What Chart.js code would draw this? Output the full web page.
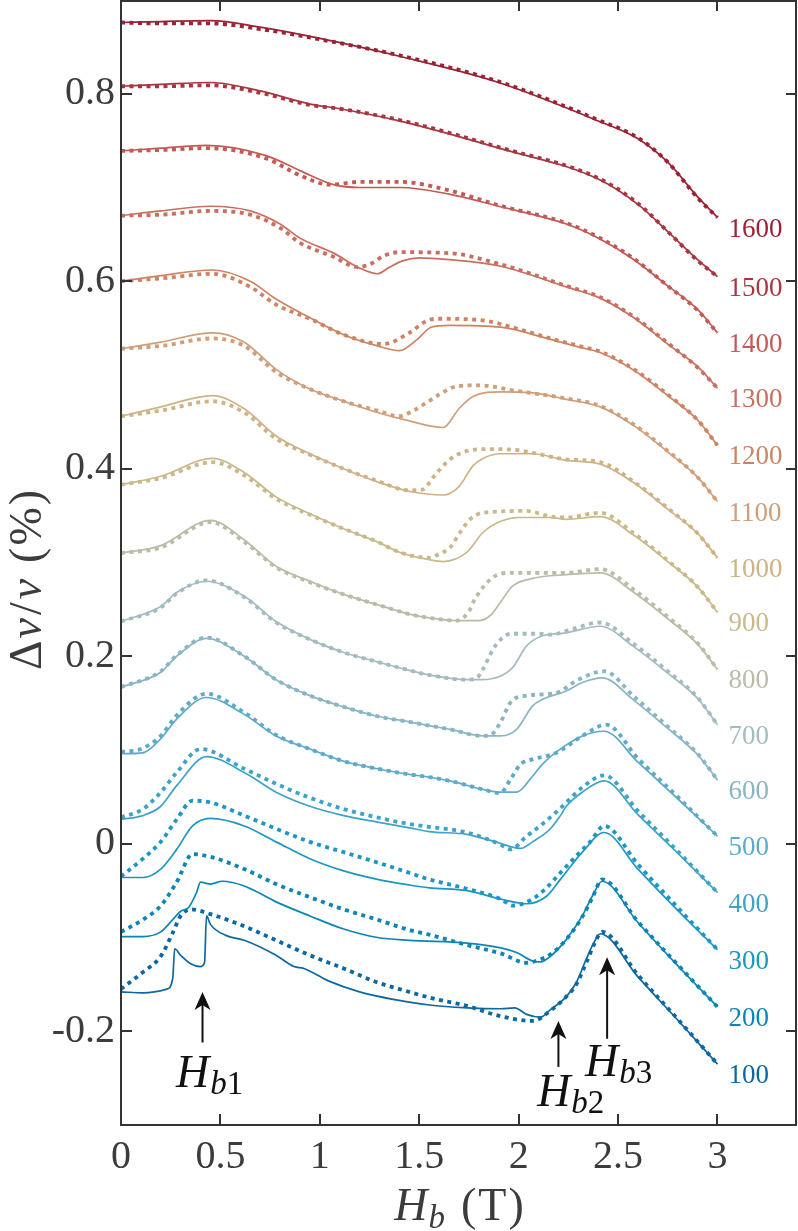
<!DOCTYPE html>
<html>
<head>
<meta charset="utf-8">
<script src="https://cdn.jsdelivr.net/npm/chart.js@4.4.1/dist/chart.umd.min.js"></script>
<style>
  html, body { margin: 0; padding: 0; background: #fff; }
  #wrap { width: 798px; height: 1231px; }
</style>
</head>
<body>
<div id="wrap"><canvas id="chart" width="798" height="1231"></canvas></div>
<script>
// ── Data ───────────────────────────────────────────
const temps = [100, 200, 300, 400, 500, 600, 700, 800, 900, 1000, 1100, 1200, 1300, 1400, 1500, 1600];

const xTicks = [0, 0.5, 1, 1.5, 2, 2.5, 3];
const xTickLabels = ['0', '0.5', '1', '1.5', '2', '2.5', '3'];
const yTicks = [-0.2, 0, 0.2, 0.4, 0.6, 0.8];
const yTickLabels = ['-0.2', '0', '0.2', '0.4', '0.6', '0.8'];

// solid (s) and dotted (d) traces, [H_b, dv/v]
const s1600 = [[0,0.876],[0.2,0.877],[0.45,0.878],[0.7,0.871],[1.0,0.859],[1.4,0.840],[1.9,0.812],[2.4,0.771],[2.6,0.752],[2.75,0.727],[2.9,0.690],[3.0,0.668]];
const d1600 = [[0,0.876],[0.2,0.875],[0.45,0.875],[0.7,0.869],[1.0,0.858],[1.4,0.841],[1.9,0.813],[2.4,0.772],[2.6,0.753],[2.75,0.727],[2.9,0.689],[3.0,0.668]];
const s1500 = [[0,0.808],[0.2,0.810],[0.45,0.812],[0.7,0.803],[0.95,0.789],[1.1,0.784],[1.4,0.771],[1.9,0.742],[2.4,0.709],[2.6,0.682],[2.75,0.653],[2.9,0.623],[3.0,0.605]];
const d1500 = [[0,0.808],[0.2,0.808],[0.45,0.809],[0.7,0.801],[0.95,0.788],[1.1,0.784],[1.4,0.772],[1.9,0.743],[2.4,0.710],[2.6,0.683],[2.75,0.653],[2.9,0.622],[3.0,0.605]];
const s1400 = [[0,0.739],[0.2,0.742],[0.43,0.745],[0.73,0.734],[0.9,0.718],[1.07,0.703],[1.2,0.700],[1.4,0.700],[1.65,0.693],[1.9,0.680],[2.24,0.661],[2.41,0.645],[2.58,0.623],[2.75,0.595],[2.9,0.570],[3.0,0.545]];
const d1400 = [[0,0.739],[0.2,0.740],[0.43,0.742],[0.73,0.731],[0.9,0.713],[1.05,0.703],[1.2,0.706],[1.4,0.706],[1.65,0.697],[1.9,0.681],[2.24,0.662],[2.41,0.646],[2.58,0.624],[2.75,0.595],[2.9,0.569],[3.0,0.545]];
const s1300 = [[0,0.670],[0.2,0.675],[0.45,0.680],[0.65,0.675],[0.8,0.661],[0.9,0.646],[1.07,0.630],[1.2,0.614],[1.29,0.608],[1.35,0.615],[1.42,0.622],[1.5,0.625],[1.65,0.623],[1.91,0.616],[2.24,0.594],[2.41,0.582],[2.58,0.561],[2.75,0.533],[2.9,0.509],[3.0,0.486]];
const d1300 = [[0,0.670],[0.2,0.671],[0.45,0.675],[0.65,0.671],[0.8,0.657],[0.9,0.641],[1.07,0.626],[1.19,0.615],[1.26,0.619],[1.32,0.627],[1.4,0.631],[1.65,0.630],[1.91,0.618],[2.24,0.595],[2.41,0.583],[2.58,0.562],[2.75,0.534],[2.9,0.508],[3.0,0.486]];
const s1200 = [[0,0.600],[0.2,0.606],[0.46,0.612],[0.65,0.600],[0.78,0.581],[0.95,0.561],[1.12,0.543],[1.29,0.531],[1.4,0.526],[1.49,0.538],[1.56,0.551],[1.65,0.553],[1.91,0.551],[2.16,0.538],[2.32,0.529],[2.41,0.524],[2.58,0.505],[2.75,0.478],[2.9,0.452],[3.0,0.425]];
const d1200 = [[0,0.600],[0.2,0.603],[0.46,0.608],[0.65,0.594],[0.78,0.575],[0.95,0.560],[1.12,0.543],[1.32,0.533],[1.45,0.545],[1.54,0.558],[1.6,0.560],[1.83,0.558],[1.95,0.552],[2.16,0.539],[2.32,0.530],[2.41,0.525],[2.58,0.506],[2.75,0.479],[2.9,0.452],[3.0,0.425]];
const s1100 = [[0,0.528],[0.2,0.535],[0.46,0.545],[0.62,0.535],[0.78,0.506],[0.95,0.485],[1.12,0.472],[1.29,0.460],[1.45,0.451],[1.62,0.444],[1.7,0.464],[1.77,0.477],[1.91,0.482],[2.07,0.481],[2.24,0.474],[2.41,0.466],[2.58,0.446],[2.75,0.418],[2.9,0.391],[3.0,0.365]];
const d1100 = [[0,0.528],[0.2,0.531],[0.46,0.539],[0.62,0.531],[0.78,0.503],[0.95,0.485],[1.12,0.472],[1.29,0.462],[1.4,0.456],[1.47,0.462],[1.54,0.471],[1.6,0.479],[1.69,0.488],[1.8,0.489],[1.99,0.483],[2.24,0.475],[2.41,0.467],[2.58,0.447],[2.75,0.419],[2.9,0.391],[3.0,0.365]];
const s1000 = [[0,0.456],[0.2,0.466],[0.46,0.478],[0.62,0.464],[0.78,0.435],[0.95,0.416],[1.12,0.400],[1.29,0.386],[1.45,0.376],[1.62,0.372],[1.7,0.381],[1.77,0.403],[1.82,0.411],[1.91,0.416],[2.07,0.416],[2.24,0.409],[2.41,0.405],[2.58,0.385],[2.75,0.357],[2.9,0.331],[3.0,0.305]];
const d1000 = [[0,0.456],[0.2,0.462],[0.46,0.472],[0.62,0.460],[0.78,0.432],[0.95,0.415],[1.12,0.400],[1.29,0.387],[1.45,0.377],[1.52,0.378],[1.57,0.391],[1.655,0.410],[1.74,0.419],[1.85,0.421],[1.99,0.420],[2.07,0.417],[2.24,0.410],[2.41,0.407],[2.58,0.386],[2.75,0.358],[2.9,0.331],[3.0,0.305]];
const s900 = [[0,0.383],[0.2,0.392],[0.46,0.411],[0.62,0.396],[0.78,0.370],[0.95,0.352],[1.12,0.336],[1.29,0.322],[1.4,0.311],[1.55,0.303],[1.62,0.301],[1.74,0.311],[1.82,0.332],[1.91,0.344],[2.0,0.348],[2.16,0.348],[2.24,0.346],[2.41,0.349],[2.58,0.329],[2.75,0.301],[2.9,0.274],[3.0,0.247]];
const d900 = [[0,0.383],[0.2,0.390],[0.46,0.407],[0.62,0.393],[0.78,0.368],[0.95,0.351],[1.12,0.336],[1.29,0.322],[1.4,0.311],[1.55,0.305],[1.6,0.309],[1.655,0.316],[1.705,0.332],[1.755,0.346],[1.82,0.353],[2.04,0.355],[2.16,0.349],[2.24,0.348],[2.41,0.353],[2.58,0.331],[2.75,0.302],[2.9,0.274],[3.0,0.247]];
const s800 = [[0,0.310],[0.2,0.318],[0.45,0.345],[0.62,0.324],[0.78,0.296],[0.95,0.280],[1.12,0.266],[1.29,0.255],[1.45,0.245],[1.55,0.241],[1.69,0.238],[1.8,0.238],[1.86,0.244],[1.91,0.258],[1.97,0.275],[2.07,0.283],[2.24,0.287],[2.41,0.289],[2.58,0.268],[2.75,0.240],[2.9,0.213],[3.0,0.186]];
const d800 = [[0,0.310],[0.2,0.316],[0.45,0.343],[0.62,0.322],[0.78,0.295],[0.95,0.279],[1.12,0.266],[1.29,0.255],[1.45,0.245],[1.55,0.241],[1.69,0.238],[1.75,0.248],[1.78,0.261],[1.87,0.284],[1.96,0.289],[2.16,0.289],[2.24,0.289],[2.41,0.293],[2.58,0.271],[2.75,0.242],[2.9,0.214],[3.0,0.186]];
const s700 = [[0,0.237],[0.2,0.253],[0.28,0.268],[0.43,0.280],[0.62,0.264],[0.78,0.237],[0.95,0.218],[1.12,0.204],[1.29,0.194],[1.45,0.185],[1.55,0.180],[1.74,0.175],[1.81,0.175],[1.91,0.179],[1.97,0.188],[2.04,0.211],[2.11,0.221],[2.24,0.225],[2.41,0.232],[2.58,0.210],[2.75,0.182],[2.9,0.155],[3.0,0.127]];
const d700 = [[0,0.237],[0.2,0.252],[0.28,0.267],[0.43,0.281],[0.62,0.263],[0.78,0.236],[0.95,0.218],[1.12,0.204],[1.29,0.194],[1.45,0.185],[1.55,0.180],[1.74,0.175],[1.79,0.177],[1.82,0.186],[1.87,0.207],[1.91,0.218],[1.96,0.224],[2.1,0.224],[2.16,0.223],[2.24,0.227],[2.41,0.236],[2.58,0.213],[2.75,0.184],[2.9,0.156],[3.0,0.127]];
const s600 = [[0,0.167],[0.2,0.183],[0.28,0.200],[0.43,0.219],[0.62,0.200],[0.78,0.175],[0.95,0.158],[1.12,0.146],[1.29,0.136],[1.45,0.130],[1.55,0.126],[1.655,0.122],[1.82,0.115],[1.91,0.115],[1.99,0.122],[2.07,0.147],[2.12,0.154],[2.24,0.163],[2.32,0.172],[2.42,0.177],[2.58,0.153],[2.75,0.123],[2.9,0.095],[3.0,0.068]];
const d600 = [[0,0.167],[0.2,0.184],[0.28,0.201],[0.43,0.220],[0.62,0.200],[0.78,0.175],[0.95,0.158],[1.12,0.146],[1.29,0.136],[1.45,0.130],[1.55,0.126],[1.655,0.122],[1.82,0.115],[1.86,0.116],[1.91,0.130],[1.96,0.151],[2.04,0.158],[2.19,0.161],[2.3,0.175],[2.43,0.184],[2.58,0.157],[2.75,0.125],[2.9,0.096],[3.0,0.068]];
const s500 = [[0,0.096],[0.11,0.097],[0.2,0.112],[0.28,0.133],[0.43,0.156],[0.62,0.138],[0.78,0.115],[0.95,0.101],[1.12,0.088],[1.29,0.080],[1.45,0.074],[1.55,0.071],[1.655,0.067],[1.82,0.058],[1.91,0.055],[1.99,0.055],[2.07,0.072],[2.12,0.085],[2.19,0.098],[2.32,0.115],[2.43,0.120],[2.6,0.087],[2.8,0.048],[3.0,0.008]];
const d500 = [[0,0.098],[0.1,0.101],[0.2,0.115],[0.28,0.137],[0.43,0.160],[0.62,0.140],[0.78,0.116],[0.95,0.101],[1.12,0.088],[1.29,0.080],[1.45,0.074],[1.55,0.071],[1.655,0.067],[1.82,0.058],[1.906,0.054],[1.96,0.069],[2.01,0.085],[2.07,0.090],[2.19,0.097],[2.32,0.115],[2.44,0.127],[2.6,0.091],[2.8,0.050],[3.0,0.008]];
const s400 = [[0,0.026],[0.11,0.030],[0.2,0.040],[0.28,0.062],[0.43,0.093],[0.62,0.076],[0.78,0.055],[0.95,0.040],[1.12,0.030],[1.29,0.023],[1.45,0.017],[1.55,0.013],[1.74,0.010],[1.9,0.001],[2.01,-0.005],[2.07,0.002],[2.16,0.016],[2.21,0.030],[2.24,0.040],[2.32,0.055],[2.43,0.067],[2.6,0.031],[2.8,-0.010],[3.0,-0.052]];
const d400 = [[0,0.028],[0.11,0.037],[0.2,0.055],[0.28,0.076],[0.4,0.101],[0.62,0.080],[0.78,0.064],[0.95,0.049],[1.12,0.037],[1.29,0.028],[1.45,0.021],[1.55,0.018],[1.74,0.012],[1.9,0.000],[1.96,-0.006],[2.04,0.008],[2.12,0.021],[2.19,0.034],[2.24,0.044],[2.32,0.060],[2.43,0.073],[2.6,0.035],[2.8,-0.008],[3.0,-0.052]];
const s300 = [[0,-0.036],[0.11,-0.036],[0.2,-0.027],[0.28,-0.006],[0.36,0.019],[0.45,0.027],[0.62,0.019],[0.78,0.002],[0.95,-0.016],[1.12,-0.029],[1.29,-0.038],[1.45,-0.044],[1.55,-0.047],[1.74,-0.050],[1.91,-0.059],[2.04,-0.064],[2.14,-0.056],[2.21,-0.038],[2.32,-0.009],[2.43,0.012],[2.6,-0.027],[2.8,-0.071],[3.0,-0.113]];
const d300 = [[0,-0.035],[0.11,-0.016],[0.2,0.002],[0.28,0.026],[0.36,0.046],[0.45,0.044],[0.62,0.030],[0.78,0.016],[0.95,0.002],[1.12,-0.009],[1.29,-0.020],[1.45,-0.031],[1.55,-0.038],[1.74,-0.048],[1.91,-0.059],[1.97,-0.066],[2.07,-0.059],[2.14,-0.047],[2.21,-0.031],[2.29,-0.013],[2.36,0.002],[2.43,0.019],[2.6,-0.022],[2.8,-0.068],[3.0,-0.113]];
const s200 = [[0,-0.099],[0.11,-0.099],[0.2,-0.094],[0.26,-0.081],[0.3,-0.072],[0.34,-0.068],[0.38,-0.052],[0.4,-0.041],[0.45,-0.043],[0.51,-0.040],[0.62,-0.045],[0.78,-0.062],[0.95,-0.077],[1.12,-0.091],[1.29,-0.100],[1.45,-0.103],[1.74,-0.106],[1.91,-0.111],[1.99,-0.116],[2.07,-0.125],[2.11,-0.126],[2.16,-0.120],[2.24,-0.102],[2.32,-0.077],[2.37,-0.056],[2.42,-0.040],[2.6,-0.084],[2.8,-0.130],[3.0,-0.174]];
const d200 = [[0,-0.094],[0.11,-0.081],[0.2,-0.066],[0.28,-0.041],[0.36,-0.011],[0.45,-0.014],[0.62,-0.027],[0.78,-0.043],[0.95,-0.057],[1.12,-0.070],[1.29,-0.081],[1.45,-0.092],[1.55,-0.097],[1.74,-0.108],[1.91,-0.117],[2.04,-0.127],[2.1,-0.124],[2.16,-0.118],[2.24,-0.102],[2.32,-0.078],[2.37,-0.058],[2.42,-0.038],[2.6,-0.083],[2.8,-0.129],[3.0,-0.174]];
const s100 = [[0,-0.158],[0.11,-0.159],[0.23,-0.155],[0.26,-0.144],[0.27,-0.112],[0.3,-0.119],[0.35,-0.128],[0.4,-0.131],[0.42,-0.127],[0.43,-0.077],[0.45,-0.086],[0.53,-0.098],[0.62,-0.103],[0.78,-0.119],[0.87,-0.131],[0.92,-0.133],[1.04,-0.146],[1.2,-0.158],[1.37,-0.166],[1.55,-0.172],[1.74,-0.175],[1.91,-0.176],[1.98,-0.175],[2.04,-0.182],[2.11,-0.185],[2.16,-0.177],[2.24,-0.163],[2.29,-0.148],[2.34,-0.123],[2.38,-0.105],[2.41,-0.096],[2.6,-0.142],[2.8,-0.188],[3.0,-0.235]];
const d100 = [[0,-0.155],[0.11,-0.137],[0.2,-0.120],[0.26,-0.095],[0.3,-0.077],[0.35,-0.070],[0.45,-0.075],[0.62,-0.088],[0.78,-0.103],[0.95,-0.119],[1.12,-0.133],[1.29,-0.148],[1.4,-0.155],[1.55,-0.164],[1.74,-0.173],[1.91,-0.184],[2.07,-0.189],[2.16,-0.178],[2.24,-0.163],[2.29,-0.150],[2.34,-0.127],[2.38,-0.107],[2.42,-0.094],[2.6,-0.140],[2.8,-0.187],[3.0,-0.235]];

const solidCurves  = [s100, s200, s300, s400, s500, s600, s700, s800, s900, s1000, s1100, s1200, s1300, s1400, s1500, s1600];
const dottedCurves = [d100, d200, d300, d400, d500, d600, d700, d800, d900, d1000, d1100, d1200, d1300, d1400, d1500, d1600];

const curveColors = ['#0b68a0', '#0b85b6', '#1c97c4', '#3fa3c8', '#5eaac8', '#8ab5c3', '#a4bbc0', '#bbbba8',
                     '#c9b98b', '#cfb286', '#d09e7a', '#cd8462', '#c8705f', '#c45a55', '#a83640', '#9b2335'];

// arrow annotations: [x, tip, tail, text x, text baseline, subscript]
const arrowNotes = [
  [0.41, -0.158, -0.212, 0.277, -0.259, '1'],
  [2.2, -0.189, -0.238, 2.093, -0.280, '2'],
  [2.445, -0.121, -0.208, 2.334, -0.248, '3']
];

// ── Styling ────────────────────────────────────────
const SERIF = '"Liberation Serif", "DejaVu Serif", serif';
const INK = '#3c3c3c';

const toPoints = arr => arr.map(([x, y]) => ({ x, y }));

// draw a run of differently styled text pieces, left to right
const drawRich = (ctx, parts, x, y) => {
  let cx = x;
  parts.forEach(p => {
    ctx.font = p.font;
    ctx.fillText(p.text, cx, y + (p.dy || 0));
    cx += ctx.measureText(p.text).width + (p.gap || 0);
  });
};

const richWidth = (ctx, parts) => parts.reduce((w, p) => {
  ctx.font = p.font;
  return w + ctx.measureText(p.text).width + (p.gap || 0);
}, 0);

// ── Frame, ticks, labels, arrows ───────────────────
const decorations = {
  id: 'decorations',
  afterDraw(chart) {
    const { ctx, chartArea: a, scales: { x, y } } = chart;
    ctx.save();

    // box
    ctx.strokeStyle = '#333';
    ctx.lineWidth = 2;
    ctx.beginPath();
    ctx.moveTo(a.left, a.top + 1);
    ctx.lineTo(a.right - 1, a.top + 1);
    ctx.lineTo(a.right - 1, a.bottom);
    ctx.lineTo(a.left, a.bottom);
    ctx.closePath();
    ctx.stroke();

    // inward ticks on all sides
    const tl = 11;
    ctx.beginPath();
    xTicks.forEach(v => {
      const px = Math.round(x.getPixelForValue(v));
      ctx.moveTo(px, a.bottom); ctx.lineTo(px, a.bottom - tl);
      ctx.moveTo(px, a.top); ctx.lineTo(px, a.top + tl);
    });
    yTicks.forEach(v => {
      const py = Math.round(y.getPixelForValue(v));
      ctx.moveTo(a.left, py); ctx.lineTo(a.left + tl, py);
      ctx.moveTo(a.right, py); ctx.lineTo(a.right - tl, py);
    });
    ctx.stroke();

    // temperature labels at the curve ends
    ctx.font = `27px ${SERIF}`;
    ctx.textAlign = 'left';
    ctx.textBaseline = 'middle';
    temps.forEach((t, i) => {
      const last = solidCurves[i][solidCurves[i].length - 1];
      ctx.fillStyle = curveColors[i];
      ctx.fillText(String(t), x.getPixelForValue(last[0]) + 11, y.getPixelForValue(last[1]) + 12);
    });

    // H_b arrows
    ctx.fillStyle = '#111';
    ctx.strokeStyle = '#111';
    ctx.textBaseline = 'alphabetic';
    arrowNotes.forEach(([ax, tip, tail, tx, ty, sub]) => {
      const px = x.getPixelForValue(ax);
      const pTip = y.getPixelForValue(tip);
      const pTail = y.getPixelForValue(tail);
      ctx.lineWidth = 2;
      ctx.beginPath();
      ctx.moveTo(px, pTail);
      ctx.lineTo(px, pTip + 10);
      ctx.stroke();
      ctx.beginPath();
      ctx.moveTo(px, pTip);
      ctx.lineTo(px - 8, pTip + 18);
      ctx.lineTo(px, pTip + 13);
      ctx.lineTo(px + 8, pTip + 18);
      ctx.closePath();
      ctx.fill();
      drawRich(ctx, [
        { text: 'H', font: `italic 46px ${SERIF}`, gap: 1 },
        { text: 'b', font: `italic 33px ${SERIF}`, dy: 7 },
        { text: sub, font: `33px ${SERIF}`, dy: 7 }
      ], x.getPixelForValue(tx), y.getPixelForValue(ty));
    });

    // axis titles
    ctx.fillStyle = INK;
    const xTitle = [
      { text: 'H', font: `italic 46px ${SERIF}`, gap: 1 },
      { text: 'b', font: `italic 33px ${SERIF}`, dy: 8, gap: 16 },
      { text: '(', font: `46px ${SERIF}`, gap: 2 },
      { text: 'T', font: `46px ${SERIF}`, gap: 2 },
      { text: ')', font: `46px ${SERIF}` }
    ];
    const cx = (a.left + a.right) / 2;
    drawRich(ctx, xTitle, cx - richWidth(ctx, xTitle) / 2, 1220);

    const yTitle = [
      { text: 'Δ', font: `46px ${SERIF}`, gap: 2 },
      { text: 'v', font: `italic 46px ${SERIF}`, gap: 3 },
      { text: '/', font: `46px ${SERIF}`, gap: 3 },
      { text: 'v', font: `italic 46px ${SERIF}`, gap: 16 },
      { text: '(', font: `46px ${SERIF}`, gap: 2 },
      { text: '%', font: `46px ${SERIF}`, gap: 2 },
      { text: ')', font: `46px ${SERIF}` }
    ];
    ctx.translate(29, 580);
    ctx.rotate(-Math.PI / 2);
    ctx.textBaseline = 'middle';
    drawRich(ctx, yTitle, -richWidth(ctx, yTitle) / 2, 0);

    ctx.restore();
  }
};

// ── Chart ──────────────────────────────────────────
const initChart = () => {
  const solidSets = temps.map((t, i) => ({
    label: `${t} K`,
    data: toPoints(solidCurves[i]),
    borderColor: curveColors[i],
    borderWidth: 1.7,
    order: 0
  }));
  const dottedSets = temps.map((t, i) => ({
    label: `${t} K dotted`,
    data: toPoints(dottedCurves[i]),
    borderColor: curveColors[i],
    borderWidth: 3.8,
    borderDash: [4, 4.5],
    order: 1
  }));

  const tickFont = { family: 'Liberation Serif', size: 40 };

  new Chart(document.getElementById('chart'), {
    type: 'line',
    data: { datasets: [...solidSets, ...dottedSets] },
    options: {
      responsive: false,
      animation: false,
      layout: { padding: { top: 0, right: 1, bottom: 0, left: 0 } },
      plugins: { legend: { display: false }, tooltip: { enabled: false } },
      elements: {
        point: { radius: 0 },
        line: { cubicInterpolationMode: 'monotone', borderCapStyle: 'butt', borderJoinStyle: 'round' }
      },
      scales: {
        x: {
          type: 'linear',
          min: 0,
          max: 3.4,
          afterBuildTicks: s => { s.ticks = xTicks.map(v => ({ value: v })); },
          afterFit: s => { s.height = 106; s.paddingLeft = 0; s.paddingRight = 0; },
          grid: { display: false, drawTicks: false },
          border: { display: false },
          ticks: { callback: (v, i) => xTickLabels[i], font: tickFont, color: INK, padding: 8, maxRotation: 0, autoSkip: false }
        },
        y: {
          type: 'linear',
          min: -0.3,
          max: 0.9,
          afterBuildTicks: s => { s.ticks = yTicks.map(v => ({ value: v })); },
          afterFit: s => { s.width = 121; s.paddingTop = 0; s.paddingBottom = 0; },
          grid: { display: false, drawTicks: false },
          border: { display: false },
          ticks: { callback: (v, i) => yTickLabels[i], font: tickFont, color: INK, padding: 6, autoSkip: false }
        }
      }
    },
    plugins: [decorations]
  });
};

document.addEventListener('DOMContentLoaded', initChart);
</script>
</body>
</html>
